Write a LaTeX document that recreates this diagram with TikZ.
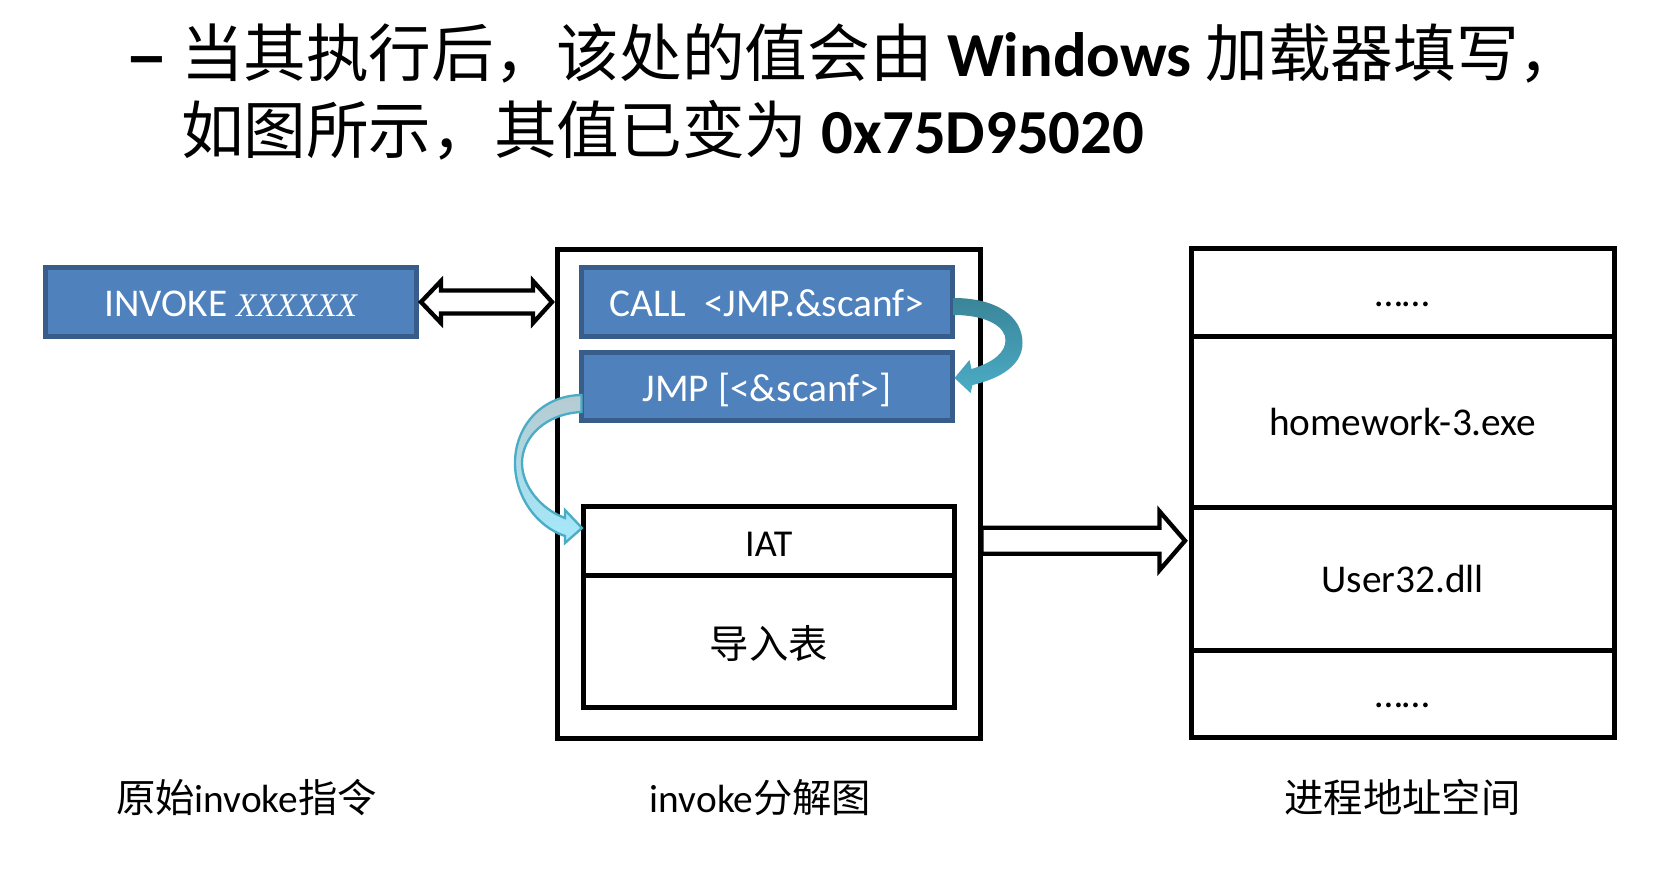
\documentclass[tikz,border=0pt]{standalone}
\usepackage{fontspec}
\setmainfont{Carlito}
\newfontfamily\cjk{Noto Sans CJK SC}
\newfontfamily\xserif{Liberation Serif}
\newfontfamily\dashfont{Liberation Sans}
\usetikzlibrary{fit,calc}
\definecolor{boxblue}{HTML}{4F81BD}
\definecolor{boxedge}{HTML}{385D8A}
\definecolor{tealdark}{HTML}{3A8598}
\definecolor{teallight}{HTML}{4BACC6}
\definecolor{greyteal}{HTML}{B6CBD1}
\definecolor{lightcyan}{HTML}{A3E9FC}
\definecolor{arrowline}{HTML}{4BACC6}
\begin{document}
\begin{tikzpicture}[x=0.3pt,y=-0.3pt,
  bluebox/.style={inner sep=0pt, outer sep=0pt, fill=boxblue, draw=boxedge, line width=1.5pt},
  cellbox/.style={inner sep=0pt, outer sep=0pt, draw=black, line width=1.5pt},
  intext/.style={inner sep=0pt, outer sep=0pt, anchor=center, text height=10pt, text depth=1.6pt,
    font=\fontsize{11.8}{14}\selectfont},
  whitetext/.style={intext, text=white},
  txt/.style={inner sep=0pt, outer sep=0pt},
  blockarrow/.style={draw=black, fill=white, line width=1.3pt, line join=miter}]
\useasboundingbox (0,0) rectangle (1665,869);

% title
\node[txt, anchor=base west, font=\fontsize{18.8}{22}\selectfont\dashfont\bfseries] (dash) at (129,76.5) {–};
\node[txt, anchor=base west, font=\fontsize{18.8}{22}\selectfont] (t1) at (181,76.5)
  {{\cjk 当其执行后，该处的值会由} \textbf{Windows} {\cjk 加载器填写，}};
\node[txt, anchor=base west, font=\fontsize{18.8}{22}\selectfont] (t2) at (181,153)
  {{\cjk 如图所示，其值已变为} \textbf{0x75D95020}};

% middle frame
\node[cellbox, fit={(557.5,249.5) (980.5,738.5)}] (mid) {};

% left box
\node[bluebox, fit={(45.5,267.5) (416,336.5)}] (invoke) {};
\node[whitetext] (invoketxt) at (invoke.center)
  {INVOKE {\xserif\itshape\fontsize{9.9}{12}\selectfont XXXXXX}};

% boxes in the frame
\node[bluebox, fit={(581.5,267.5) (952.5,336.5)}] (call) {};
\node[whitetext] (calltxt) at (call.center) {CALL~~<JMP.\&scanf>};
\node[bluebox, fit={(581.5,352.5) (952.5,420.5)}] (jmp) {};
\node[whitetext, yshift=-0.4pt] (jmptxt) at (jmp.center) {JMP [<\&scanf>]};
\node[cellbox, fit={(583.5,506.5) (954,575)}] (iat) {};
\node[intext, font=\fontsize{11.4}{13}\selectfont, yshift=-0.6pt] (iattxt) at (iat.center) {IAT};
\node[cellbox, fit={(583.5,575) (954,707.5)}] (imp) {};
\node[intext, yshift=-1pt] (imptxt) at (imp.center) {\cjk 导入表};

% right column
\node[cellbox, fit={(1191.5,248.5) (1614,336)}] (r1) {};
\node[intext] (r1txt) at (r1.center) {……};
\node[cellbox, fit={(1191.5,336) (1614,507.5)}] (r2) {};
\node[intext] (r2txt) at (r2.center) {homework-3.exe};
\node[cellbox, fit={(1191.5,507.5) (1614,650)}] (r3) {};
\node[intext] (r3txt) at (r3.center) {User32.dll};
\node[cellbox, fit={(1191.5,650) (1614,737.5)}] (r4) {};
\node[intext] (r4txt) at (r4.center) {……};

% double arrow between invoke and frame
\begin{scope}[shift={(invoke.east)}]
\draw[blockarrow] (5,0) -- (25,-21) -- (25,-11.5) -- (117,-11.5) -- (117,-21) -- (136,0)
  -- (117,21) -- (117,11.5) -- (25,11.5) -- (25,21) -- cycle;
\end{scope}

% block arrow from frame to process space
\begin{scope}[shift={(mid.east |- iat.center)}]
\draw[blockarrow] (1,-13) -- (179,-13) -- (179,-29.5) -- (204.5,0) -- (179,29.5)
  -- (179,13) -- (1,13) -- cycle;
\end{scope}

% curved arrow CALL -> JMP
\begin{scope}[shift={(call.east)}]
\shade[top color=tealdark, bottom color=teallight]
  (1,-4) .. controls (45,-4) and (70,15) .. (70,41)
  .. controls (70,62) and (50,76) .. (20,83)
  -- (18,91) -- (2,76) -- (17,58) -- (19,67)
  .. controls (42,60) and (53,50) .. (53,38)
  .. controls (53,25) and (35,13) .. (1,13) -- cycle;
\end{scope}

% curved arrow JMP -> IAT
\begin{scope}[shift={(jmp.west)}]
\shadedraw[top color=greyteal, bottom color=lightcyan, draw=arrowline, line width=0.7pt, line join=miter]
  (0,8.5) .. controls (-40,9) and (-66.5,40) .. (-66.5,76.5)
  .. controls (-66.5,110) and (-45,140) .. (-16.5,149.5)
  -- (-16.5,156.5) -- (0.5,141.5) -- (-16.5,123.5) -- (-16.5,131.5)
  .. controls (-40,123) and (-59.5,100) .. (-59.5,76.5)
  .. controls (-59.5,50) and (-35,27) .. (0,25.5) -- cycle;
\end{scope}

% bottom captions
\node[txt, anchor=base, font=\fontsize{11.8}{14}\selectfont] (lab1) at (246.5,812)
  {{\cjk 原始}invoke{\cjk 指令}};
\node[txt, anchor=base, font=\fontsize{11.8}{14}\selectfont] (lab2) at (760.5,812)
  {invoke{\cjk 分解图}};
\node[txt, anchor=base, font=\fontsize{11.8}{14}\selectfont] (lab3) at (1402.5,812)
  {\cjk 进程地址空间};
\end{tikzpicture}
\end{document}
